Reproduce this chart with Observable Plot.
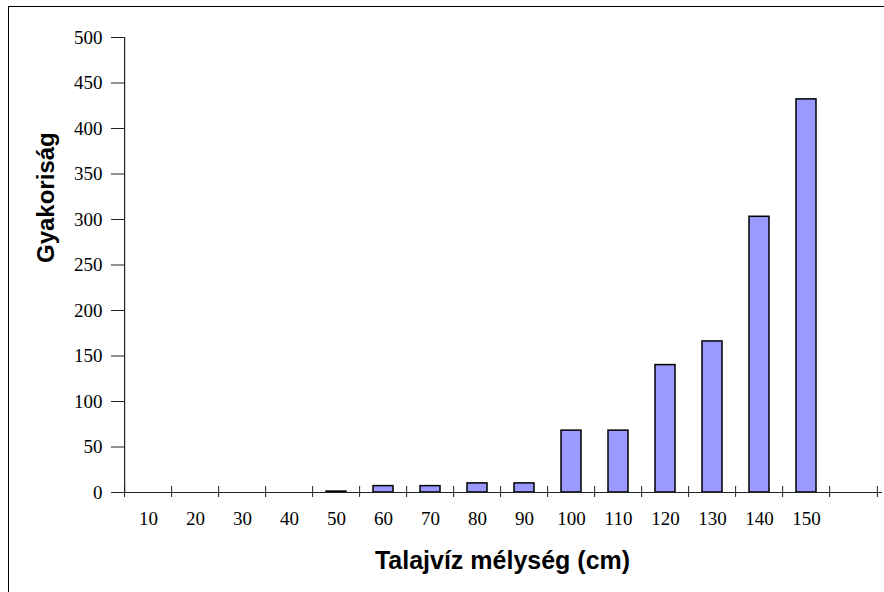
<!DOCTYPE html>
<html>
<head>
<meta charset="utf-8">
<script src="https://cdn.jsdelivr.net/npm/d3@7"></script>
<script src="https://cdn.jsdelivr.net/npm/@observablehq/plot@0.6"></script>
<style>
  html, body { margin: 0; padding: 0; background: #fff; overflow: hidden; }
  #wrap { position: relative; width: 884px; height: 592px; }
  #border { position: absolute; left: 8px; top: 6px; width: 900px; height: 600px;
            border-left: 1.5px solid #000; border-top: 1.5px solid #000; box-sizing: border-box; }
  #chart { position: absolute; left: 0; top: 0; }
</style>
</head>
<body>
<div id="wrap"><div id="border"></div><div id="chart"></div></div>
<script>
const categories = ["10","20","30","40","50","60","70","80","90","100","110","120","130","140","150",""];
const counts = [0, 0, 0, 0, 1, 7, 7, 10, 10, 68, 68, 140, 166, 303, 432];
const yTicks = [0, 50, 100, 150, 200, 250, 300, 350, 400, 450, 500];
const xTitle = "Talajvíz mélység (cm)";
const yTitle = "Gyakoriság";

const data = counts.map((c, i) => ({depth: categories[i], count: c}));

const W = 884, H = 592, mL = 118, mR = 2, mT = 37, mB = 100;
const step = (W - mL - mR) / categories.length;
const half = step / 2;

const chart = Plot.plot({
  width: W, height: H,
  marginLeft: mL, marginRight: mR, marginTop: mT, marginBottom: mB,
  style: {fontFamily: "'Liberation Serif', serif", fontSize: "19px", color: "#000", background: "transparent", overflow: "visible"},
  x: {type: "band", domain: categories, paddingInner: 0.58, paddingOuter: 0.29, axis: null, label: null},
  y: {domain: [0, 500], axis: null, label: null},
  marks: [
    Plot.barY(data, {x: "depth", y: "count", fill: "#9999ff", stroke: "#000", strokeWidth: 1.5}),
    // axis lines
    Plot.ruleY([0], {stroke: "#222", strokeWidth: 1.2}),
    Plot.ruleX([categories[0]], {dx: -half, y1: 0, y2: 500, stroke: "#222", strokeWidth: 1.2}),
    // y ticks (crossing)
    Plot.axisY(yTicks, {anchor: "left", label: null, tickSize: 13, dx: 6, tickFormat: () => "", stroke: "#222"}),
    Plot.axisY(yTicks, {anchor: "left", label: null, tickSize: 0, tickPadding: 16, fill: "#000"}),
    // x ticks at band boundaries (crossing)
    Plot.axisX(categories, {anchor: "bottom", label: null, tickSize: 11, dx: -half, dy: -6, tickFormat: () => "", stroke: "#222"}),
    Plot.axisX([categories[categories.length - 1]], {anchor: "bottom", label: null, tickSize: 11, dx: half, dy: -6, tickFormat: () => "", stroke: "#222"}),
    Plot.axisX(categories, {anchor: "bottom", label: null, tickSize: 0, tickPadding: 19, fill: "#000"}),
    // titles
    Plot.text([xTitle], {frameAnchor: "bottom", dx: 2, dy: 68, lineAnchor: "middle", fontFamily: "'Liberation Sans', Arial, sans-serif", fontWeight: "bold", fontSize: 25, fill: "#000"}),
    Plot.text([yTitle], {frameAnchor: "left", dx: -72, dy: -2, rotate: -90, lineAnchor: "middle", fontFamily: "'Liberation Sans', Arial, sans-serif", fontWeight: "bold", fontSize: 24, fill: "#000"})
  ]
});
document.getElementById("chart").appendChild(chart);
</script>
</body>
</html>
